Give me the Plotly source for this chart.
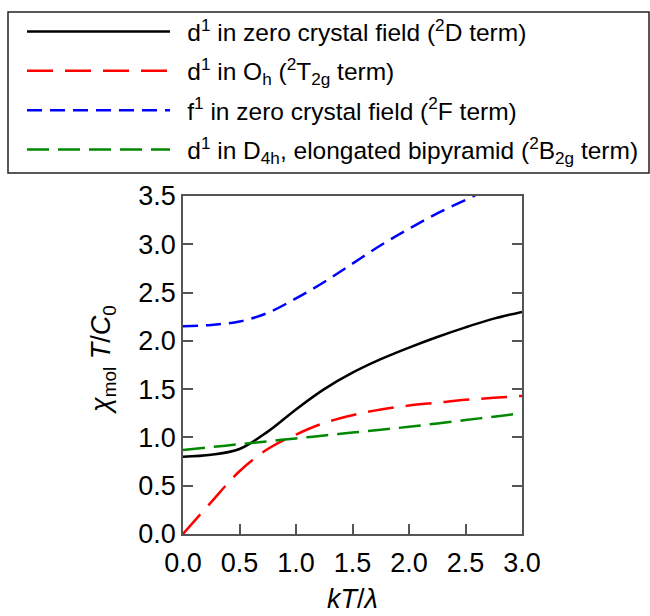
import plotly.graph_objects as go

x_vals = [0.0, 0.25, 0.5, 0.75, 1.0, 1.25, 1.5, 1.75, 2.0, 2.25, 2.5, 2.75, 3.0]
d1_zero = [0.80, 0.82, 0.88, 1.06, 1.29, 1.50, 1.67, 1.81, 1.93, 2.04, 2.14, 2.23, 2.30]
d1_oh = [0.0, 0.33, 0.65, 0.88, 1.03, 1.15, 1.23, 1.29, 1.33, 1.36, 1.39, 1.41, 1.43]
f1_zero = [2.15, 2.165, 2.20, 2.29, 2.44, 2.61, 2.80, 2.99, 3.16, 3.32, 3.46, 3.60, 3.73]
d1_d4h = [0.87, 0.90, 0.93, 0.96, 0.99, 1.02, 1.05, 1.08, 1.11, 1.145, 1.18, 1.215, 1.25]

names = [
    "d<sup>1</sup> in zero crystal field (<sup>2</sup>D term)",
    "d<sup>1</sup> in O<sub>h</sub> (<sup>2</sup>T<sub>2g</sub> term)",
    "f<sup>1</sup> in zero crystal field (<sup>2</sup>F term)",
    "d<sup>1</sup> in D<sub>4h</sub>, elongated bipyramid (<sup>2</sup>B<sub>2g</sub> term)",
]
series = [d1_zero, d1_oh, f1_zero, d1_d4h]
colors = ["#000000", "#ff0000", "#0000ff", "#008800"]
dashes = ["solid", "26px,12px", "15px,8px", "22px,9px"]
x_ticks = [0, 0.5, 1.0, 1.5, 2.0, 2.5, 3.0]
x_ticktext = ["0.0", "0.5", "1.0", "1.5", "2.0", "2.5", "3.0"]
y_ticks = [0, 0.5, 1.0, 1.5, 2.0, 2.5, 3.0, 3.5]
y_ticktext = ["0.0", "0.5", "1.0", "1.5", "2.0", "2.5", "3.0", "3.5"]

fig = go.Figure()
for i, (ys, nm, c, d) in enumerate(zip(series, names, colors, dashes)):
    fig.add_trace(go.Scatter(
        x=x_vals, y=ys, name="\u2002" + nm, mode="lines",
        line=dict(color=c, width=2.5, dash=d, shape="spline"),
        legendgroup=str(i),
    ))

# plot area in pixels: left 183, right 522, top 196, bottom 534
L, R, T, B = 183, 522, 196, 534
def px(xp):
    return (xp - L) / (R - L)
def py(yp):
    return (B - yp) / (B - T)

font_family = "Liberation Sans, Arial, sans-serif"
fig.add_shape(type="rect", xref="paper", yref="paper",
              x0=px(8), x1=px(649), y0=py(173), y1=py(12),
              line=dict(color="#222222", width=1.5), fillcolor="rgba(0,0,0,0)",
              layer="above")

fig.add_annotation(xref="paper", yref="paper", x=px(103), y=py(360),
                   text="<i>χ</i><sub>mol</sub> <i>T</i>/<i>C</i><sub>0</sub>",
                   textangle=-90, showarrow=False, font=dict(size=27),
                   xanchor="center", yanchor="middle")
fig.add_annotation(xref="paper", yref="paper", x=px(352), y=py(599),
                   text="<i>kT</i>/<i>λ</i>", showarrow=False, font=dict(size=27),
                   xanchor="center", yanchor="middle")

fig.update_layout(
    width=650, height=616,
    margin=dict(l=L, r=650 - R, t=T, b=616 - B, autoexpand=False),
    plot_bgcolor="white", paper_bgcolor="white",
    font=dict(family=font_family, color="black"),
    showlegend=True,
    legend=dict(
        xref="container", yref="container",
        x=22/650, y=1-9/616, xanchor="left", yanchor="top",
        borderwidth=0,
        font=dict(size=24.5, family=font_family),
        itemwidth=143,
        tracegroupgap=4.5,
        bgcolor="rgba(0,0,0,0)",
    ),
    xaxis=dict(
        range=[0, 3.0], tickvals=x_ticks, ticktext=x_ticktext,
        ticks="inside", ticklen=10, tickwidth=1.5, tickcolor="#555555",
        showline=True, linecolor="#555555", linewidth=1.5, mirror=True,
        showgrid=False, zeroline=False, automargin=False,
        tickfont=dict(size=27), ticklabelstandoff=4,
    ),
    yaxis=dict(
        range=[0, 3.5], tickvals=y_ticks, ticktext=y_ticktext,
        ticks="inside", ticklen=10, tickwidth=1.5, tickcolor="#555555",
        showline=True, linecolor="#555555", linewidth=1.5, mirror="allticks",
        showgrid=False, zeroline=False, automargin=False,
        tickfont=dict(size=27),
    ),
)

fig.write_html("out.html")
